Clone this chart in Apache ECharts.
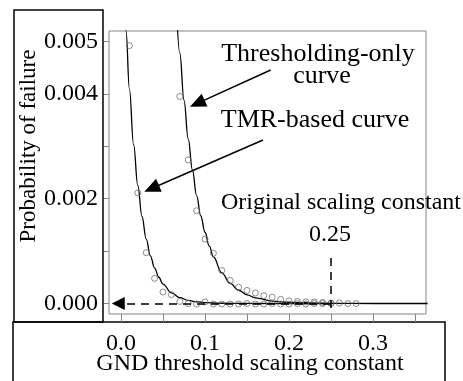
<!DOCTYPE html>
<html><head><meta charset="utf-8">
<script src="https://cdn.jsdelivr.net/npm/echarts@6/dist/echarts.min.js"></script>
<style>html,body{margin:0;padding:0;background:#fff}#c{width:463px;height:381px}</style>
</head><body><div id="c"></div>
<script>
// axis ticks / labels
const xTicks = [0, 0.05, 0.1, 0.15, 0.2, 0.25, 0.3, 0.35];
const xTickLabels = [0, 0.1, 0.2, 0.3];
const yTicks = [0, 0.001, 0.002, 0.003, 0.004, 0.005];
const yTickLabels = [0, 0.002, 0.004, 0.005];

// observed points (circles)
const tmrPointX = [0.01,0.02,0.03,0.04,0.05,0.06,0.07,0.08,0.09,0.10,0.11,0.12,0.13,0.14,0.15,0.16,0.17,0.18,0.19,0.20,0.21,0.22,0.23,0.24,0.25];
const tmrPointY = [0.00492,0.00211,0.00097,0.00048,0.00022,0.00017,0.00004,0.0,-0.00001,0.00003,-0.00001,-0.00001,-0.00001,-0.00001,0.0,-0.00001,-0.00001,0.0,-0.00001,-0.00001,0.0,-0.00001,0.0,0.0,0.0];
const thrPointX = [0.07,0.08,0.09,0.10,0.11,0.12,0.13,0.14,0.15,0.16,0.17,0.18,0.19,0.20,0.21,0.22,0.23,0.24,0.25,0.26,0.27,0.28];
const thrPointY = [0.00395,0.00274,0.00177,0.00123,0.00096,0.00063,0.00044,0.00031,0.00025,0.00020,0.00015,0.00012,0.00008,0.00005,0.00004,0.00003,0.00003,0.00002,0.00001,0.00001,0.0,0.0];

// fitted curves
const tmrCurveX = [0.004,0.006,0.010,0.015,0.020,0.025,0.030,0.035,0.040,0.045,0.050,0.060,0.070,0.080,0.090,0.100,0.120,0.150,0.200,0.250];
const tmrCurveY = [0.00586,0.0052,0.00409,0.00303,0.00225,0.00166,0.00123,0.00091,0.000676,0.000501,0.000371,0.000204,0.000112,0.0000614,0.0000336,0.0000185,0.0000055,0.000001,0.0,0.0];
const thrCurveX = [0.066,0.070,0.075,0.080,0.085,0.090,0.095,0.100,0.105,0.110,0.120,0.130,0.140,0.150,0.160,0.180,0.200,0.250,0.300,0.365];
const thrCurveY = [0.00566,0.00478,0.00388,0.00314,0.00255,0.00206,0.00167,0.00136,0.00110,0.00089,0.000585,0.000385,0.000253,0.000166,0.000109,0.000047,0.0000203,0.0000025,0.0,0.0];

// annotation anchor points (data coordinates)
const thrArrowFrom = [0.1782, 0.004456];
const thrArrowTo = [0.0908, 0.003819];
const tmrArrowFrom = [0.1690, 0.00312];
const tmrArrowTo = [0.0364, 0.002195];
const originalConstant = 0.25;
const dashTop = 0.00087;
const dashBottom = -0.0002;
const hArrowTo = -0.0033;

const FONT = '"Liberation Serif", "Times New Roman", serif';
const zip = (a, b) => a.map((v, i) => [v, b[i]]);

const chart = echarts.init(document.getElementById('c'), null, {renderer: 'canvas'});
chart.setOption({
  animation: false,
  backgroundColor: '#fff',
  grid: {left: 109, top: 31, right: 37, bottom: 67, show: true, borderColor: '#858585', borderWidth: 1, containLabel: false},
  xAxis: {
    type: 'value', min: -0.01429, max: 0.3631,
    axisLine: {show: false, onZero: false},
    splitLine: {show: false},
    axisTick: {show: true, customValues: xTicks, length: 8, lineStyle: {color: '#858585', width: 1}},
    axisLabel: {customValues: xTickLabels, margin: 18, fontFamily: FONT, fontSize: 24, color: '#000',
      formatter: v => v.toFixed(1)}
  },
  yAxis: {
    type: 'value', min: -0.0002, max: 0.0052,
    axisLine: {show: false, onZero: false},
    splitLine: {show: false},
    axisTick: {show: true, customValues: yTicks, length: 5, lineStyle: {color: '#858585', width: 1}},
    axisLabel: {customValues: yTickLabels, margin: 11, fontFamily: FONT, fontSize: 24, color: '#000',
      formatter: v => v.toFixed(3)}
  },
  series: [
    {type: 'line', data: zip(tmrCurveX, tmrCurveY), showSymbol: false, smooth: 0.4, smoothMonotone: 'x',
      lineStyle: {color: '#000', width: 1.3}, silent: true, z: 3},
    {type: 'line', data: zip(thrCurveX, thrCurveY), showSymbol: false, smooth: 0.4, smoothMonotone: 'x',
      lineStyle: {color: '#000', width: 1.3}, silent: true, z: 3},
    {type: 'scatter', data: zip(tmrPointX, tmrPointY), symbol: 'circle', symbolSize: 6,
      itemStyle: {color: 'rgba(0,0,0,0)', borderColor: '#6e6e6e', borderWidth: 1}, silent: true, z: 4,
      markLine: {silent: true, animation: false, label: {show: false},
        lineStyle: {color: '#000', width: 1.5, type: 'solid'},
        symbol: ['none', 'triangle'], symbolSize: [0, 14],
        data: [
          [{coord: thrArrowFrom, symbol: 'none'}, {coord: thrArrowTo, symbol: 'triangle', symbolSize: [14, 16]}],
          [{coord: tmrArrowFrom, symbol: 'none'}, {coord: tmrArrowTo, symbol: 'triangle', symbolSize: [14, 16]}]
        ]}},
    {type: 'scatter', data: zip(thrPointX, thrPointY), symbol: 'circle', symbolSize: 6,
      itemStyle: {color: 'rgba(0,0,0,0)', borderColor: '#6e6e6e', borderWidth: 1}, silent: true, z: 4,
      markLine: {silent: true, animation: false, label: {show: false},
        lineStyle: {color: '#000', width: 1.5, type: [8, 6]},
        symbol: ['none', 'none'],
        data: [
          [{coord: [originalConstant, dashTop], symbol: 'none'}, {coord: [originalConstant, dashBottom], symbol: 'none'}],
          [{coord: [originalConstant, 0], symbol: 'none'}, {coord: [hArrowTo, 0], symbol: 'triangle', symbolSize: [13, 13]}]
        ]}}
  ],
  graphic: [
    {type: 'rect', shape: {x: 14, y: 10, width: 89, height: 312}, style: {fill: 'none', stroke: '#000', lineWidth: 1.5}, silent: true},
    {type: 'rect', shape: {x: 13, y: 322, width: 432, height: 80}, style: {fill: 'none', stroke: '#000', lineWidth: 1.5}, silent: true},
    {type: 'text', x: 29, y: 146, rotation: Math.PI / 2, style: {text: 'Probability of failure', font: '23px ' + FONT, fill: '#000', textAlign: 'center', textVerticalAlign: 'middle'}, silent: true},
    {type: 'text', x: 250, y: 364, style: {text: 'GND threshold scaling constant', font: '24px ' + FONT, fill: '#000', textAlign: 'center', textVerticalAlign: 'middle'}, silent: true},
    {type: 'text', x: 318, y: 54, style: {text: 'Thresholding-only', font: '26px ' + FONT, fill: '#000', textAlign: 'center', textVerticalAlign: 'middle'}, silent: true, z: 10},
    {type: 'text', x: 322, y: 76, style: {text: 'curve', font: '26px ' + FONT, fill: '#000', textAlign: 'center', textVerticalAlign: 'middle'}, silent: true, z: 10},
    {type: 'text', x: 315, y: 120, style: {text: 'TMR-based curve', font: '26px ' + FONT, fill: '#000', textAlign: 'center', textVerticalAlign: 'middle'}, silent: true, z: 10},
    {type: 'text', x: 341, y: 203, style: {text: 'Original scaling constant', font: '24px ' + FONT, fill: '#000', textAlign: 'center', textVerticalAlign: 'middle'}, silent: true, z: 10},
    {type: 'text', x: 330, y: 235, style: {text: '0.25', font: '24px ' + FONT, fill: '#000', textAlign: 'center', textVerticalAlign: 'middle'}, silent: true, z: 10}
  ]
});
</script>
</body></html>
